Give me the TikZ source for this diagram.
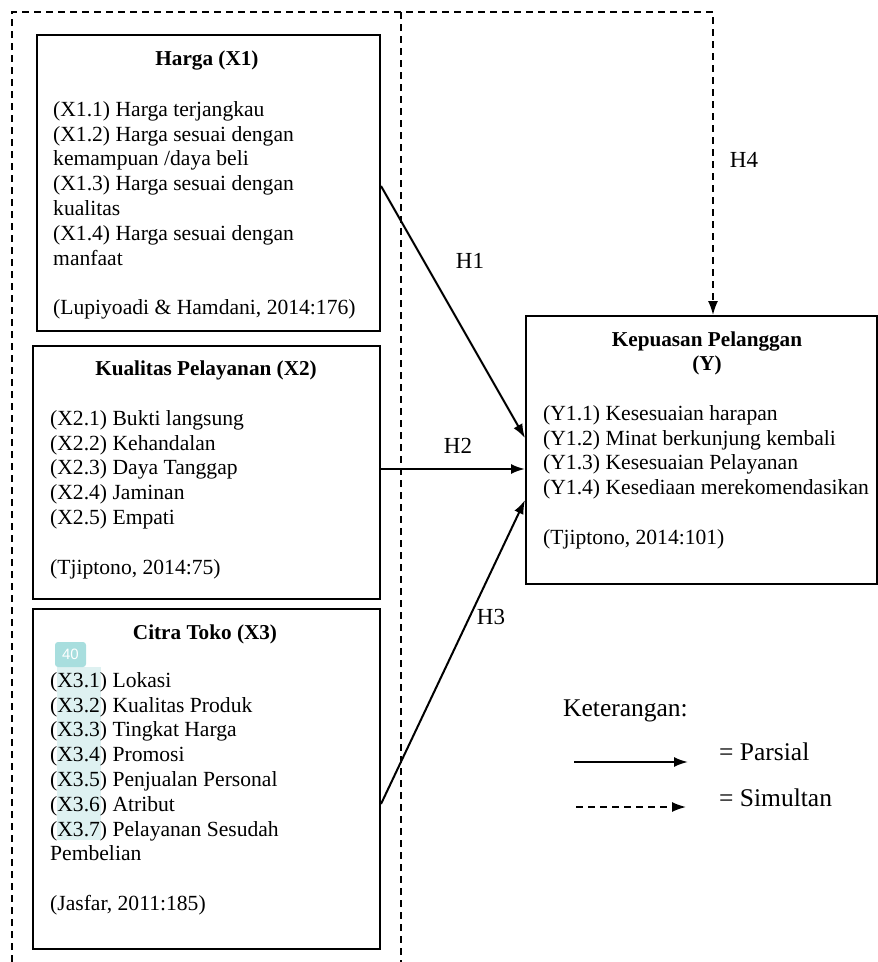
\documentclass[tikz,border=0pt]{standalone}
\usepackage{fontspec}
\setmainfont{Liberation Serif}
\newfontfamily\badgefont{Liberation Sans}
\usetikzlibrary{arrows.meta}
\definecolor{badgecol}{RGB}{168,222,222}
\definecolor{hlcol}{RGB}{222,241,241}
\begin{document}
\begin{tikzpicture}[x=1pt,y=-1pt,
  varbox/.style={draw, line width=2pt, inner sep=0pt, anchor=north west},
  body/.style={anchor=north west, inner sep=0pt, align=left, font=\fontsize{21.6}{24.8}\selectfont},
  boxtitle/.style={anchor=base, inner sep=0pt, font=\fontsize{21.2}{24.8}\selectfont\bfseries},
  hlabel/.style={inner sep=0pt, font=\fontsize{23}{26}\selectfont},
  legendtext/.style={anchor=base west, inner sep=0pt, font=\fontsize{25.5}{30}\selectfont},
  parsial/.style={line width=2pt, -{Latex[length=14pt,width=10pt]}},
  simultan/.style={line width=1.6pt, dash pattern=on 7pt off 5pt, -{Latex[length=14pt,width=10pt]}},
  grouping/.style={line width=1.6pt, dash pattern=on 7pt off 5pt}]

\useasboundingbox (0,0) rectangle (878,962);

% boxes
\node[varbox, minimum width=343pt, minimum height=296pt] (x1) at (36,34) {};
\node[varbox, minimum width=347pt, minimum height=253pt] (x2) at (32,345) {};
\node[varbox, minimum width=347pt, minimum height=340pt] (x3) at (32,608) {};
\node[varbox, minimum width=351pt, minimum height=268pt] (y) at (525,315) {};

% highlight artefact
\fill[hlcol] (57,667) rectangle (101,840);
\node[fill=badgecol, rounded corners=3pt, minimum width=31pt, minimum height=25pt, inner sep=0pt,
      font=\badgefont\fontsize{15}{18}\selectfont, text=white] (badge) at (70.5,654.5) {40};

% titles
\node[boxtitle] (x1h) at (207,65) {Harga (X1)};
\node[boxtitle] (x2h) at (206,375) {Kualitas Pelayanan (X2)};
\node[boxtitle] (x3h) at (205,639) {Citra Toko (X3)};
\node[boxtitle] (yh) at (707,346) {Kepuasan Pelanggan};
\node[boxtitle] (yh2) at (707,370) {(Y)};

% bodies
\node[body] (x1t) at (53,98.64) {\strut(X1.1) Harga terjangkau\\(X1.2) Harga sesuai dengan\\kemampuan /daya beli\\(X1.3) Harga sesuai dengan\\kualitas\\(X1.4) Harga sesuai dengan\\manfaat\\[24.8pt](Lupiyoadi \& Hamdani, 2014:176)};
\node[body] (x2t) at (50,407.64) {\strut(X2.1) Bukti langsung\\(X2.2) Kehandalan\\(X2.3) Daya Tanggap\\(X2.4) Jaminan\\(X2.5) Empati\\[24.8pt](Tjiptono, 2014:75)};
\node[body] (x3t) at (50,669.64) {\strut(X3.1) Lokasi\\(X3.2) Kualitas Produk\\(X3.3) Tingkat Harga\\(X3.4) Promosi\\(X3.5) Penjualan Personal\\(X3.6) Atribut\\(X3.7) Pelayanan Sesudah\\Pembelian\\[24.8pt](Jasfar, 2011:185)};
\node[body] (yt) at (543,402.64) {\strut(Y1.1) Kesesuaian harapan\\(Y1.2) Minat berkunjung kembali\\(Y1.3) Kesesuaian Pelayanan\\(Y1.4) Kesediaan merekomendasikan\\[24.8pt](Tjiptono, 2014:101)};

% dashed grouping and H4
\coordinate (gtl) at (12,12);
\coordinate (gbl) at (12,962);
\coordinate (gtr) at (401,12);
\coordinate (gbr) at (401,962);
\coordinate (h4turn) at (713,12);
\draw[simultan] (gbl) -- (gtl) -- (h4turn) -- (h4turn |- y.north);
\draw[grouping] (gtr) -- (gbr);

% partial arrows
\draw[parsial] ([yshift=-3pt]x1.east) -- ([yshift=12pt]y.west);
\draw[parsial] ([yshift=3.5pt]x2.east) -- ([yshift=-19pt]y.west);
\draw[parsial] ([yshift=-25pt]x3.east) -- ([yshift=-50pt]y.west);

% labels
\node[hlabel] (h1) at (470,261) {H1};
\node[hlabel] (h2) at (458,446) {H2};
\node[hlabel] (h3) at (491,617) {H3};
\node[hlabel] (h4) at (744,160) {H4};

% legend
\node[legendtext] (ket) at (563,716) {Keterangan:};
\coordinate (la1) at (574,762);
\coordinate (lb1) at (688,762);
\coordinate (la2) at (576,807);
\coordinate (lb2) at (686,807);
\draw[parsial] (la1) -- (lb1);
\draw[simultan] (la2) -- (lb2);
\node[legendtext] (lp) at (719,760) {= Parsial};
\node[legendtext] (ls) at (719,806) {= Simultan};
\end{tikzpicture}
\end{document}
